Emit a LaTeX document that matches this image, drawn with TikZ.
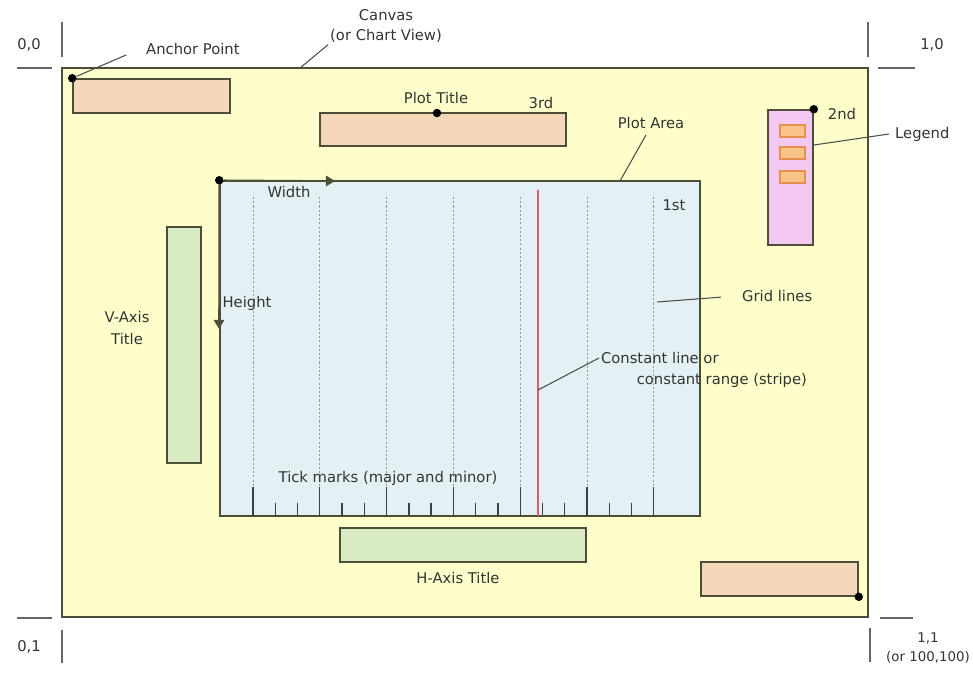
\documentclass[tikz,border=0pt]{standalone}
\usepackage{fontspec}
\setmainfont{DejaVu Sans}
\usetikzlibrary{arrows.meta,positioning}
\definecolor{canvasfill}{HTML}{FFFFCC}
\definecolor{edgecol}{HTML}{4D4D3A}
\definecolor{peach}{HTML}{F5D8BA}
\definecolor{sage}{HTML}{D9EBC2}
\definecolor{plotblue}{HTML}{E4F1F4}
\definecolor{lilac}{HTML}{F3C8F3}
\definecolor{legitem}{HTML}{F8C48A}
\definecolor{legedge}{HTML}{E8904A}
\definecolor{constred}{HTML}{E05A6A}

\begin{document}
\begin{tikzpicture}[
  x=0.02cm, y=-0.02cm,
  >=Triangle,
  every node/.style={font=\fontsize{8.4}{12}\selectfont, text=black!80},
  box/.style={draw=edgecol, line width=0.9pt, inner sep=0pt, fill=peach},
  titlebox/.style={box, fill=sage},
  legitembox/.style={draw=legedge, line width=0.6pt, inner sep=0pt, fill=legitem,
                     minimum width=0.5cm, minimum height=0.24cm},
  dot/.style={circle, fill=black, inner sep=0pt, minimum size=0.17cm},
  leader/.style={draw=black!70, line width=0.6pt},
  cornerline/.style={draw=black!60, line width=0.8pt},
  gridline/.style={draw=black!40, line width=0.5pt, dash pattern=on 1.2pt off 1.2pt},
  tickline/.style={draw=black!75, line width=0.7pt}
]
\useasboundingbox (0,0) rectangle (973,673);
%% canvas
\node[box, fill=canvasfill, line width=1.1pt, minimum width=16.12cm,
      minimum height=10.98cm] (canvas) at (465,342.5) {};
%% corner marks
\draw[cornerline] (17,68) -- (52,68) (62,22) -- (62,57);
\draw[cornerline] (878,68) -- (915,68) (868,22) -- (868,57);
\draw[cornerline] (17,618) -- (52,618) (62,630) -- (62,663);
\draw[cornerline] (880,618) -- (913,618) (870,628) -- (870,662);
\node (c00) at (29,45) {0,0};
\node (c10) at (932,45) {1,0};
\node (c01) at (29,647) {0,1};
\node[align=center, inner sep=0pt, font=\fontsize{7.6}{11}\selectfont] (c11) at (928,648) {1,1\\(or 100,100)};
%% canvas label
\node[align=center, inner sep=1pt, font=\fontsize{8.4}{11.5}\selectfont] (canvaslbl) at (386,26) {Canvas\\(or Chart View)};
\coordinate (canvastop) at (300,68);
\draw[leader] (canvastop) -- (canvaslbl.south west);
%% anchor point
\node[box, minimum width=3.14cm, minimum height=0.68cm] (anchorbox) at (151.5,96) {};
\node[dot] (anchordot) at (anchorbox.north west) {};
\node[anchor=west] (anchorlbl) at (140,49) {Anchor Point};
\draw[leader, shorten >=0.3cm] (anchordot) -- (anchorlbl.west);
%% plot title
\node[box, minimum width=4.92cm, minimum height=0.66cm] (titlebox) at (443,129.5) {};
\node[dot] (titledot) at (437,113) {};
\node (titlelbl) at (436,98) {Plot Title};
\node (third) at (541,103) {3rd};
%% legend
\node[box, fill=lilac, minimum width=0.9cm, minimum height=2.7cm] (legend) at (790.5,177.5) {};
\node[legitembox] (leg1) at (792.5,131) {};
\node[legitembox] (leg2) at (792.5,153) {};
\node[legitembox] (leg3) at (792.5,177) {};
\node[dot] (legdot) at (legend.north east) {};
\node (second) at (842,114) {2nd};
\node[anchor=west] (leglbl) at (889,134) {Legend};
\coordinate (legedgept) at (814,145);
\draw[leader] (legedgept) -- (leglbl.west);
%% axis titles
\node[titlebox, minimum width=0.68cm, minimum height=4.72cm] (vaxis) at (184,345) {};
\node[align=center] (vaxislbl) at (127,328) {V-Axis\\Title};
\node[titlebox, minimum width=4.92cm, minimum height=0.68cm] (haxis) at (463,545) {};
\node (haxislbl) at (458,578) {H-Axis Title};
%% plot area
\node[box, fill=plotblue, minimum width=9.6cm, minimum height=6.7cm] (plotarea) at (460,348.5) {};
\foreach \i in {0,...,6} {
  \pgfmathsetmacro{\gx}{253+66.8*\i}
  \draw[gridline] (\gx,197) -- (\gx,487);
  \draw[tickline] (\gx,487) -- (\gx,516);
}
\foreach \i in {0,...,5} {
  \pgfmathsetmacro{\ga}{253+66.8*\i+22.3}
  \pgfmathsetmacro{\gb}{253+66.8*\i+44.5}
  \draw[tickline] (\ga,503) -- (\ga,516) (\gb,503) -- (\gb,516);
}
\draw[draw=constred, line width=0.9pt] (538,190) -- (538,516);
\node[dot] (plotdot) at (plotarea.north west) {};
\coordinate (widthend) at (335,181);
\coordinate (heightend) at (219,329);
\draw[->, line width=0.9pt, draw=edgecol] (plotdot) -- (widthend);
\draw[->, line width=0.9pt, draw=edgecol] (plotdot) -- (heightend);
\node (widthlbl) at (289,192) {Width};
\node (heightlbl) at (247,303) {Height};
\node (first) at (674,205) {1st};
\node (plotarealbl) at (651,123) {Plot Area};
\coordinate (plotareatop) at (620,181);
\draw[leader] (plotareatop) -- ([xshift=-0.1cm]plotarealbl.south);
\node (ticklbl) at (388,478) {Tick marks (major and minor)};
%% grid and constant labels
\node[anchor=west] (gridlbl) at (736,296) {Grid lines};
\coordinate (gridpt) at (657,302);
\draw[leader, shorten >=0.3cm] (gridpt) -- (gridlbl.west);
\node[anchor=west, inner sep=1pt] (constlbl) at (599,358) {Constant line or};
\node[anchor=east, inner sep=1pt] (stripelbl) at (809,380) {constant range (stripe)};
\coordinate (constpt) at (538,390);
\draw[leader] (constpt) -- (constlbl.west);
%% bottom right box
\node[box, minimum width=3.14cm, minimum height=0.68cm] (cornerbox) at (779.5,579) {};
\node[dot] (cornerdot) at (cornerbox.south east) {};
\end{tikzpicture}
\end{document}
